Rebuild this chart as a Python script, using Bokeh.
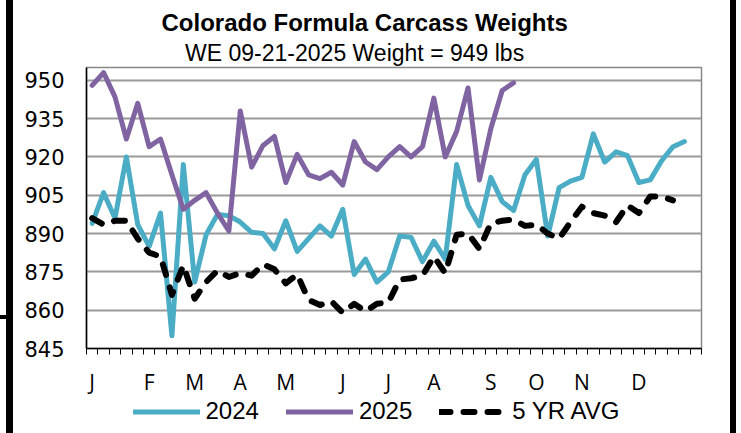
from bokeh.plotting import figure
from bokeh.models import (FixedTicker, Legend, LegendItem, Title, Range1d, Spacer)
from bokeh.layouts import row, column
from bokeh.embed import file_html
from bokeh.resources import INLINE

# ---------------- data ----------------
weeks_2024 = list(range(1, 54))
weight_2024 = [894, 906, 896, 920, 893.5, 885, 898, 850, 917, 871,
               889.5, 897.5, 897, 894.5, 890.5, 890, 884, 895, 883, 888,
               893, 889, 899.5, 874, 880, 871, 875, 889, 888.5, 879,
               887, 880, 917, 901, 893, 912, 902.5, 899, 913, 919,
               889, 908, 910.5, 912, 929, 918, 922, 920.5, 910, 911,
               918.5, 924, 926]

weeks_2025 = list(range(1, 39))
weight_2025 = [948, 953, 943.5, 927, 941, 924, 927, 913, 899.5, 903,
               906, 898, 891, 938, 916, 924.5, 928, 910, 921, 913,
               911.5, 914, 909, 926, 918, 915, 920, 924, 920, 924,
               943, 920, 930, 947, 911, 931, 946, 949]

weeks_avg = list(range(1, 53))
weight_avg = [896, 893.5, 895, 895, 888, 882.5, 881, 866, 877.5, 864.5,
              871, 875.5, 873, 874.5, 873.5, 878, 876, 870.5, 874, 864,
              862, 863.5, 859, 862.5, 859.5, 862.5, 863, 872, 872.5, 873.5,
              881, 874.5, 889.5, 890, 884, 894, 895, 895.5, 893, 893.5,
              890, 888, 894.5, 900.5, 898, 897, 894.5, 901, 898, 904.5,
              904.5, 903]

n_categories = 54
month_weeks = [1, 6, 10, 14, 18, 23, 27, 31, 36, 40, 44, 49]
month_labels = ["J", "F", "M", "A", "M", "J", "J", "A", "S", "O", "N", "D"]
y_ticks = [845, 860, 875, 890, 905, 920, 935, 950]
series_names = ["2024", "2025", "5 YR AVG"]
title_text = "Colorado Formula Carcass Weights"
subtitle_text = "WE  09-21-2025 Weight = 949 lbs"

colors = ["#4BACC6", "#8064A2", "black"]
widths = [5, 5, 6]
dashes = ["solid", "solid", "11 13"]
series = [(weeks_2024, weight_2024), (weeks_2025, weight_2025), (weeks_avg, weight_avg)]

# ---------------- main figure ----------------
W = 717
H1, H2 = 398, 35
p = figure(width=W, height=H1, output_backend="svg", toolbar_location=None,
           x_range=Range1d(0.5, n_categories + 0.5), y_range=Range1d(845, 955),
           min_border_left=73, min_border_right=29, min_border_top=67,
           min_border_bottom=48)
p.background_fill_color = "white"
p.border_fill_color = "white"
p.outline_line_color = "#888888"
p.outline_line_width = 1.5

p.xgrid.visible = False
p.ygrid.ticker = FixedTicker(ticks=y_ticks)
p.ygrid.grid_line_color = "#999999"
p.ygrid.grid_line_width = 2

xa = p.xaxis[0]
xa.ticker = FixedTicker(ticks=month_weeks,
                        minor_ticks=[w + 0.5 for w in range(0, n_categories + 1)])
xa.major_label_overrides = {w: lab for w, lab in zip(month_weeks, month_labels)}
xa.axis_line_color = "black"
xa.axis_line_width = 1.5
xa.major_tick_line_color = None
xa.major_tick_out = 6
xa.major_tick_in = 0
xa.minor_tick_line_color = "black"
xa.minor_tick_line_width = 1
xa.minor_tick_out = 6
xa.minor_tick_in = 0
xa.major_label_standoff = 13
xa.major_label_text_font = "Open Sans"
xa.major_label_text_font_size = "21px"
xa.major_label_text_color = "black"

ya = p.yaxis[0]
ya.ticker = FixedTicker(ticks=y_ticks, minor_ticks=[])
ya.axis_line_color = "black"
ya.axis_line_width = 1.5
ya.major_tick_line_color = None
ya.major_tick_out = 0
ya.major_tick_in = 0
ya.minor_tick_line_color = None
ya.major_label_standoff = 22
ya.major_label_text_font = "DejaVu Sans"
ya.major_label_text_font_size = "21px"
ya.major_label_text_color = "black"

for (xs, ys), c, w, d in zip(series, colors, widths, dashes):
    p.line(xs, ys, line_color=c, line_width=w, line_dash=d,
           line_join="round", line_cap="round")

p.add_layout(Title(text=subtitle_text, align="left", offset=98.6, standoff=3,
                   text_font="Liberation Sans", text_font_style="normal",
                   text_font_size="23px", text_color="black"), "above")
p.add_layout(Title(text=title_text, align="left", offset=75, standoff=1,
                   text_font="Liberation Sans", text_font_style="bold",
                   text_font_size="24px", text_color="black"), "above")

# ---------------- legend strip (its frame is aligned with the main frame) ----------------
pl = figure(width=W, height=H2, output_backend="svg", toolbar_location=None,
            x_axis_type=None, y_axis_type=None, min_border=0,
            x_range=Range1d(-2, -1), y_range=Range1d(0, 1))
pl.outline_line_color = None
pl.xgrid.visible = False
pl.ygrid.visible = False
pl.background_fill_color = "white"
pl.border_fill_color = "white"
legend_renderers = [pl.line(xs, ys, line_color=c, line_width=w, line_dash=d,
                            line_cap="round", line_join="round")
                    for (xs, ys), c, w, d in zip(series, colors, widths, dashes)]
legend = Legend(items=[LegendItem(label=n, renderers=[r])
                       for n, r in zip(series_names, legend_renderers)],
                location=(46.5, H2 - 27), orientation="horizontal",
                glyph_width=67, glyph_height=27, label_height=27,
                label_standoff=6, spacing=27, padding=0, margin=0,
                border_line_color=None, background_fill_alpha=0,
                label_text_font="Liberation Sans", label_text_font_size="24px",
                label_text_color="black")
pl.add_layout(legend)

# ---------------- black edges of the screenshot ----------------
H = H1 + H2
black = {"background-color": "black"}
left_edge = column(Spacer(width=6, height=315),
                   Spacer(width=6, height=4, styles=black),
                   Spacer(width=6, height=H - 319))
left_bar = Spacer(width=7, height=H, styles=black)
right_bar = Spacer(width=6, height=H, styles=black)
layout = row(left_edge, left_bar, column(p, pl), right_bar)

open("out.html", "w").write(file_html(layout, INLINE))
